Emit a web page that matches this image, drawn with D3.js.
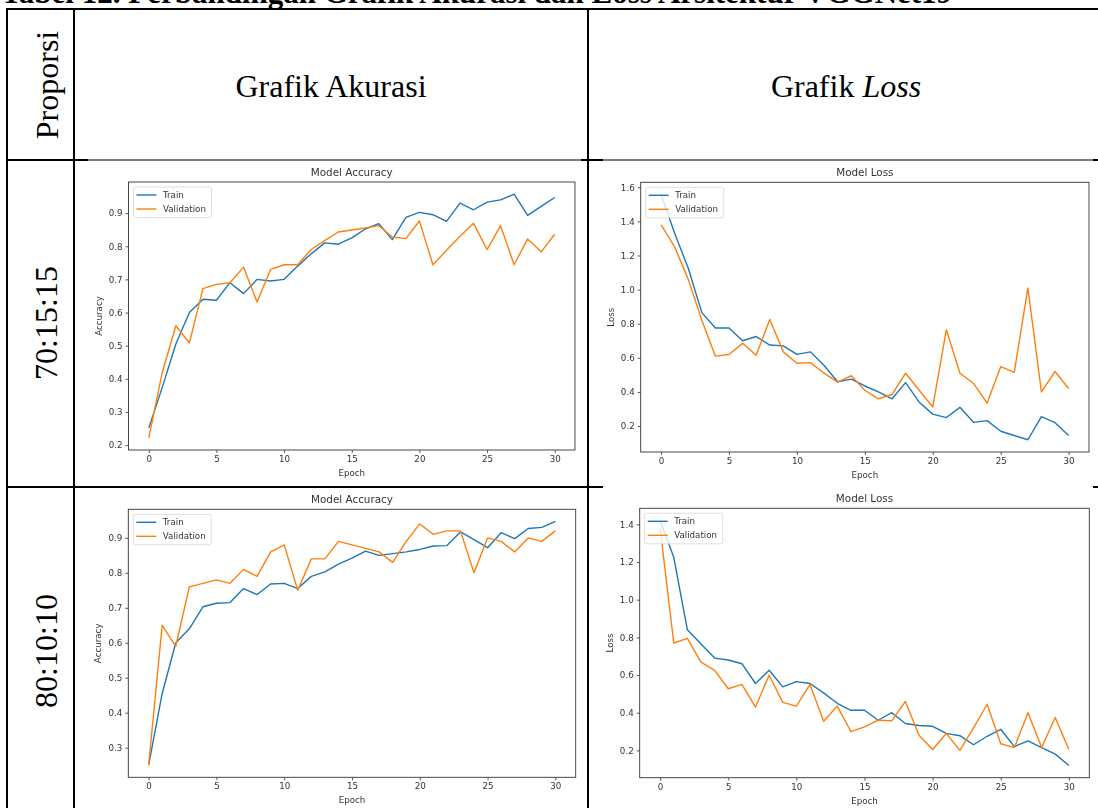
<!DOCTYPE html>
<html>
<head>
<meta charset="utf-8">
<script src="https://cdn.jsdelivr.net/npm/d3@7/dist/d3.min.js"></script>
<style>
  html, body { margin: 0; padding: 0; background: #fff; }
  svg { display: block; }
</style>
</head>
<body>
<svg id="page" width="1098" height="808"></svg>
<script>
// ---- data: training history per split proportion ----
const epochs = d3.range(0, 31);
const epochTicks = [0, 5, 10, 15, 20, 25, 30];

const proportions = ["70:15:15", "80:10:10"];
const seriesNames = ["Train", "Validation"];

const acc701515Train = [0.252, 0.375, 0.505, 0.600, 0.640, 0.637, 0.690, 0.657, 0.700, 0.695, 0.700,
  0.740, 0.777, 0.810, 0.806, 0.825, 0.852, 0.868, 0.820, 0.887, 0.902,
  0.895, 0.875, 0.930, 0.910, 0.933, 0.940, 0.957, 0.893, 0.920, 0.947];
const acc701515Val = [0.222, 0.420, 0.560, 0.508, 0.672, 0.685, 0.690, 0.737, 0.632, 0.730, 0.744,
  0.744, 0.790, 0.817, 0.843, 0.849, 0.855, 0.862, 0.828, 0.823, 0.876,
  0.744, 0.788, 0.830, 0.869, 0.790, 0.862, 0.744, 0.822, 0.783, 0.836];
const loss701515Train = [1.557, 1.330, 1.125, 0.865, 0.775, 0.775, 0.700, 0.725, 0.675, 0.670, 0.620,
  0.635, 0.555, 0.460, 0.475, 0.435, 0.400, 0.360, 0.455, 0.340, 0.270,
  0.250, 0.310, 0.222, 0.232, 0.170, 0.145, 0.120, 0.255, 0.220, 0.145];
const loss701515Val = [1.380, 1.250, 1.060, 0.820, 0.610, 0.620, 0.685, 0.615, 0.825, 0.635, 0.568,
  0.572, 0.510, 0.458, 0.495, 0.410, 0.360, 0.385, 0.510, 0.410, 0.312,
  0.765, 0.510, 0.450, 0.335, 0.548, 0.515, 1.010, 0.400, 0.520, 0.420];

const acc801010Train = [0.250, 0.455, 0.600, 0.640, 0.703, 0.713, 0.715, 0.755, 0.738, 0.768, 0.770,
  0.755, 0.790, 0.803, 0.825, 0.842, 0.862, 0.850, 0.855, 0.860, 0.867,
  0.877, 0.878, 0.917, 0.895, 0.872, 0.915, 0.898, 0.927, 0.930, 0.947];
const acc801010Val = [0.250, 0.650, 0.590, 0.760, 0.770, 0.780, 0.770, 0.810, 0.790, 0.860, 0.880,
  0.750, 0.840, 0.840, 0.890, 0.880, 0.870, 0.860, 0.830, 0.890, 0.940,
  0.910, 0.920, 0.920, 0.800, 0.900, 0.890, 0.860, 0.900, 0.890, 0.920];
const loss801010Train = [1.420, 1.225, 0.840, 0.765, 0.690, 0.680, 0.660, 0.555, 0.625, 0.537, 0.565,
  0.555, 0.505, 0.450, 0.413, 0.413, 0.360, 0.400, 0.343, 0.332, 0.328,
  0.290, 0.278, 0.230, 0.275, 0.312, 0.220, 0.250, 0.215, 0.180, 0.120];
const loss801010Val = [1.380, 0.770, 0.795, 0.668, 0.625, 0.527, 0.550, 0.430, 0.600, 0.455, 0.435,
  0.550, 0.355, 0.435, 0.300, 0.325, 0.360, 0.357, 0.460, 0.280, 0.205,
  0.290, 0.200, 0.320, 0.445, 0.235, 0.215, 0.400, 0.215, 0.375, 0.205];

const accTicksA = [0.2, 0.3, 0.4, 0.5, 0.6, 0.7, 0.8, 0.9];
const accTicksB = [0.3, 0.4, 0.5, 0.6, 0.7, 0.8, 0.9];
const lossTicksA = [0.2, 0.4, 0.6, 0.8, 1.0, 1.2, 1.4, 1.6];
const lossTicksB = [0.2, 0.4, 0.6, 0.8, 1.0, 1.2, 1.4];

const captionText = "Tabel 12. Perbandingan Grafik Akurasi dan Loss Arsitektur VGGNet19";
const headProporsi = "Proporsi";
const headAcc = "Grafik Akurasi";
const headLossA = "Grafik ";
const headLossB = "Loss";

// ---- page ----
const svg = d3.select("#page");
const serif = "'Liberation Serif', 'Times New Roman', serif";
const sans = "'DejaVu Sans', sans-serif";
const colors = ["#1f77b4", "#ff7f0e"];

// soft edge for the embedded chart plots
svg.append("defs").append("filter")
  .attr("id", "soft").attr("x", "-2%").attr("y", "-2%").attr("width", "104%").attr("height", "104%")
  .append("feGaussianBlur").attr("stdDeviation", 0.3);

// caption above the table (runs off the top edge)
svg.append("text")
  .attr("x", 1).attr("y", 3)
  .attr("font-family", serif).attr("font-weight", "bold").attr("font-size", 31)
  .attr("fill", "#000")
  .text(captionText);

// table rules
const rules = svg.append("g").attr("stroke", "#000").attr("fill", "none");
function rule(x1, y1, x2, y2, w) {
  rules.append("line").attr("x1", x1).attr("y1", y1).attr("x2", x2).attr("y2", y2).attr("stroke-width", w);
}
rule(6, 9, 1098, 9, 2);
rule(7, 8, 7, 808, 2);
rule(74, 8, 74, 808, 2);
rule(588, 8, 588, 808, 2);
rule(6, 160, 1095, 160, 1.2);
rule(6, 160, 88, 160, 2);
rule(581, 160, 603, 160, 2);
rule(1093, 160, 1098, 160, 2);
rule(6, 487, 603, 487, 2);
rule(1093, 487, 1098, 487, 2);

// header cells
svg.append("text")
  .attr("transform", "translate(47,85) rotate(-90)")
  .attr("text-anchor", "middle").attr("dominant-baseline", "central")
  .attr("font-family", serif).attr("font-size", 32)
  .text(headProporsi);
svg.append("text")
  .attr("x", 331).attr("y", 97)
  .attr("text-anchor", "middle")
  .attr("font-family", serif).attr("font-size", 32)
  .text(headAcc);
const lossHead = svg.append("text")
  .attr("x", 846).attr("y", 97)
  .attr("text-anchor", "middle")
  .attr("font-family", serif).attr("font-size", 32);
lossHead.append("tspan").text(headLossA);
lossHead.append("tspan").attr("font-style", "italic").text(headLossB);

// proportion labels
const rowCenters = [323, 651];
proportions.forEach((p, i) => {
  svg.append("text")
    .attr("transform", `translate(46,${rowCenters[i]}) rotate(-90)`)
    .attr("text-anchor", "middle").attr("dominant-baseline", "central")
    .attr("font-family", serif).attr("font-size", 32)
    .text(p);
});

// ---- one matplotlib-style line chart ----
function drawChart(cfg) {
  const { left, right, top, bottom } = cfg.box;
  const g = svg.append("g").attr("filter", "url(#soft)");

  const all = cfg.series.flat();
  const lo = d3.min(all), hi = d3.max(all);
  const pad = (hi - lo) * 0.05;
  const x = d3.scaleLinear().domain([-1.5, 31.5]).range([left, right]);
  const y = d3.scaleLinear().domain([lo - pad, hi + pad]).range([bottom, top]);

  g.append("rect")
    .attr("x", left).attr("y", top).attr("width", right - left).attr("height", bottom - top)
    .attr("fill", "#fff");

  const fs = 8.7;
  const xAxis = g.append("g")
    .attr("transform", `translate(0,${bottom})`)
    .call(d3.axisBottom(x).tickValues(epochTicks).tickFormat(d3.format("d")).tickSize(3).tickSizeOuter(0).tickPadding(3));
  const yAxis = g.append("g")
    .attr("transform", `translate(${left},0)`)
    .call(d3.axisLeft(y).tickValues(cfg.ticks).tickFormat(d3.format(".1f")).tickSize(3).tickSizeOuter(0).tickPadding(3));
  [xAxis, yAxis].forEach(a => {
    a.select(".domain").remove();
    a.selectAll(".tick line").attr("stroke", "#333").attr("stroke-width", 0.8);
    a.selectAll(".tick text").attr("font-family", sans).attr("font-size", fs).attr("fill", "#333");
  });

  const line = d3.line().x((d, i) => x(epochs[i])).y(d => y(d));
  cfg.series.forEach((s, k) => {
    g.append("path")
      .datum(s)
      .attr("d", line)
      .attr("fill", "none")
      .attr("stroke", colors[k])
      .attr("stroke-width", 1.4)
      .attr("stroke-linejoin", "round");
  });

  g.append("rect")
    .attr("x", left).attr("y", top).attr("width", right - left).attr("height", bottom - top)
    .attr("fill", "none").attr("stroke", "#333").attr("stroke-width", 0.9);

  // title and axis labels
  g.append("text")
    .attr("x", (left + right) / 2).attr("y", top - 6)
    .attr("text-anchor", "middle")
    .attr("font-family", sans).attr("font-size", 10.4).attr("fill", "#333")
    .text(cfg.title);
  g.append("text")
    .attr("x", (left + right) / 2).attr("y", bottom + 26)
    .attr("text-anchor", "middle")
    .attr("font-family", sans).attr("font-size", fs).attr("fill", "#333")
    .text("Epoch");
  g.append("text")
    .attr("transform", `translate(${left - 27},${(top + bottom) / 2}) rotate(-90)`)
    .attr("text-anchor", "middle")
    .attr("font-family", sans).attr("font-size", fs).attr("fill", "#333")
    .text(cfg.ylabel);

  // legend
  const lx = left + 5, ly = top + 5;
  const leg = g.append("g");
  leg.append("rect")
    .attr("x", lx).attr("y", ly).attr("width", 78).attr("height", 30.5).attr("rx", 2)
    .attr("fill", "#fff").attr("fill-opacity", 0.8)
    .attr("stroke", "#d6d6d6").attr("stroke-width", 0.8);
  seriesNames.forEach((name, k) => {
    const yy = ly + 8 + k * 14;
    leg.append("line")
      .attr("x1", lx + 3).attr("x2", lx + 23).attr("y1", yy).attr("y2", yy)
      .attr("stroke", colors[k]).attr("stroke-width", 1.4);
    leg.append("text")
      .attr("x", lx + 29.5).attr("y", yy).attr("dy", "0.35em")
      .attr("font-family", sans).attr("font-size", fs).attr("fill", "#333")
      .text(name);
  });
}

drawChart({
  box: { left: 128.5, right: 575, top: 182, bottom: 450 },
  series: [acc701515Train, acc701515Val], ticks: accTicksA,
  title: "Model Accuracy", ylabel: "Accuracy"
});
drawChart({
  box: { left: 640.7, right: 1089, top: 182.3, bottom: 452 },
  series: [loss701515Train, loss701515Val], ticks: lossTicksA,
  title: "Model Loss", ylabel: "Loss"
});
drawChart({
  box: { left: 128.3, right: 575.7, top: 509.3, bottom: 777.3 },
  series: [acc801010Train, acc801010Val], ticks: accTicksB,
  title: "Model Accuracy", ylabel: "Accuracy"
});
drawChart({
  box: { left: 639.7, right: 1089.3, top: 508.3, bottom: 777.7 },
  series: [loss801010Train, loss801010Val], ticks: lossTicksB,
  title: "Model Loss", ylabel: "Loss"
});
</script>
</body>
</html>
